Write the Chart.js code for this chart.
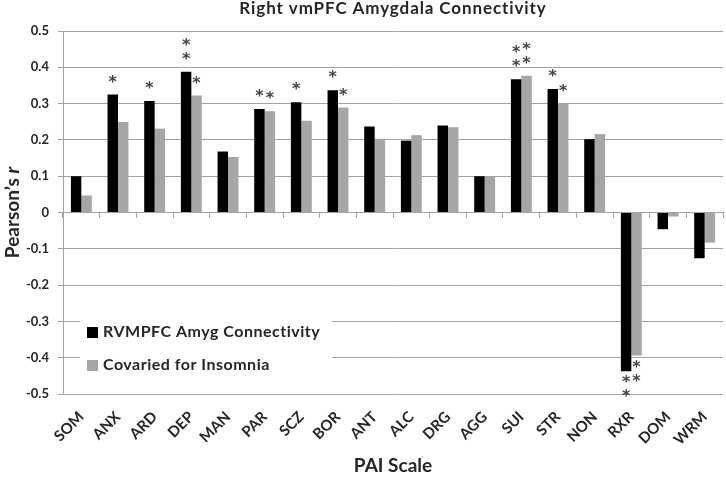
<!DOCTYPE html>
<html>
<head>
<meta charset="utf-8">
<script src="https://cdn.jsdelivr.net/npm/chart.js@4/dist/chart.umd.min.js"></script>
<style>
  html, body { margin: 0; padding: 0; background: #fff; }
  #wrap { width: 726px; height: 481px; }
</style>
</head>
<body>
<div id="wrap"><canvas id="chart" width="726" height="481"></canvas></div>
<script>
const categories = ['SOM', 'ANX', 'ARD', 'DEP', 'MAN', 'PAR', 'SCZ', 'BOR', 'ANT', 'ALC', 'DRG', 'AGG', 'SUI', 'STR', 'NON', 'RXR', 'DOM', 'WRM']
const connectivity = [0.100, 0.325, 0.307, 0.388, 0.168, 0.285, 0.304, 0.337, 0.237, 0.198, 0.240, 0.100, 0.367, 0.340, 0.202, -0.437, -0.046, -0.126]
const insomnia = [0.047, 0.249, 0.231, 0.322, 0.153, 0.279, 0.253, 0.289, 0.203, 0.213, 0.235, 0.100, 0.377, 0.300, 0.216, -0.394, -0.011, -0.083]
// number of significance asterisks per bar
const starsConnectivity = [0, 1, 1, 2, 0, 1, 1, 1, 0, 0, 0, 0, 2, 1, 0, 2, 0, 0]
const starsInsomnia = [0, 0, 0, 1, 0, 1, 0, 1, 0, 0, 0, 0, 2, 1, 0, 2, 0, 0]
const yMin = -0.5
const yMax = 0.5
const yStep = 0.1

const FONT = 'Lato, "Open Sans", sans-serif'
const TEXT = '#262626'
const GRID = '#a3a3a3'

// title, y title with italic r, inside legend, asterisks
const extras = {
    id: 'extras',
    afterDatasetsDraw(chart) {
        const { ctx, chartArea } = chart
        ctx.save()

        // asterisks
        const starSets = [starsConnectivity, starsInsomnia]
        ctx.fillStyle = '#444'
        ctx.font = 'bold 16px "DejaVu Sans"'
        ctx.textAlign = 'center'
        ctx.textBaseline = 'alphabetic'
        starSets.forEach((stars, d) => {
            const meta = chart.getDatasetMeta(d)
            stars.forEach((n, j) => {
                const bar = meta.data[j]
                const v = chart.data.datasets[d].data[j]
                for (let k = 0; k < n; k++) {
                    const center = v >= 0 ? bar.y - 17 - 14 * k : bar.y + 7 + 14 * k
                    ctx.fillText('*', bar.x, center + 9)
                }
            })
        })

        // legend box sitting on the plot
        ctx.fillStyle = '#fff'
        ctx.fillRect(80, 300, 252, 85)
        ctx.font = 'bold 16px ' + FONT
        ctx.letterSpacing = '0.5px'
        ctx.textAlign = 'left'
        ctx.textBaseline = 'middle'
        chart.data.datasets.forEach((ds, i) => {
            const y = 332 + i * 33
            ctx.fillStyle = ds.backgroundColor
            ctx.fillRect(87, y - 5, 11, 11)
            ctx.fillStyle = TEXT
            ctx.fillText(ds.label, 103, y)
        })

        // chart title
        ctx.font = 'bold 17px ' + FONT
        ctx.letterSpacing = '0.9px'
        ctx.textAlign = 'center'
        ctx.fillStyle = TEXT
        ctx.fillText('Right vmPFC Amygdala Connectivity', (chartArea.left + chartArea.right) / 2, 9)
        ctx.letterSpacing = '0px'

        // y axis title, "r" in italic
        const a = 'Pearson\u2019s '
        const b = 'r'
        ctx.font = 'bold 19px ' + FONT
        const wa = ctx.measureText(a).width
        ctx.font = 'italic bold 19px ' + FONT
        const wb = ctx.measureText(b).width
        ctx.translate(13, (chartArea.top + chartArea.bottom) / 2)
        ctx.rotate(-Math.PI / 2)
        ctx.textAlign = 'left'
        ctx.font = 'bold 19px ' + FONT
        ctx.fillText(a, -(wa + wb) / 2, 0)
        ctx.font = 'italic bold 19px ' + FONT
        ctx.fillText(b, -(wa + wb) / 2 + wa, 0)
        ctx.restore()
    }
}

new Chart(document.getElementById('chart'), {
    type: 'bar',
    data: {
        labels: categories,
        datasets: [{
            label: 'RVMPFC Amyg Connectivity',
            data: connectivity,
            backgroundColor: '#000000',
            borderWidth: 0
        }, {
            label: 'Covaried for Insomnia',
            data: insomnia,
            backgroundColor: '#a6a6a6',
            borderWidth: 0
        }]
    },
    options: {
        responsive: false,
        animation: false,
        layout: { padding: { top: 31, right: 3, left: 0, bottom: 0 } },
        categoryPercentage: 0.57,
        barPercentage: 1.0,
        plugins: {
            legend: { display: false },
            title: { display: false },
            tooltip: { enabled: false }
        },
        scales: {
            x: {
                position: 'bottom',
                grid: { display: false },
                border: { display: false },
                ticks: {
                    color: TEXT,
                    font: { family: FONT, size: 15, weight: 'bold' },
                    minRotation: 45,
                    maxRotation: 45,
                    padding: 6
                },
                title: {
                    display: true,
                    text: 'PAI Scale',
                    color: TEXT,
                    font: { family: FONT, size: 19, weight: 'bold' },
                    padding: { top: 0, bottom: 4 }
                },
                afterFit: scale => { scale.height = 87 }
            },
            // zero line with category tick marks
            x0: {
                type: 'category',
                labels: categories,
                position: { y: 0 },
                offset: true,
                ticks: { display: false },
                grid: { drawOnChartArea: false, drawTicks: true, tickLength: 5, offset: true, color: GRID },
                border: { display: true, color: GRID, width: 1 }
            },
            y: {
                min: yMin,
                max: yMax,
                grid: { color: GRID, tickLength: 5 },
                border: { color: GRID },
                ticks: {
                    stepSize: yStep,
                    color: TEXT,
                    padding: 9,
                    font: { family: FONT, size: 13, weight: 'bold' },
                    callback: v => {
                        const r = Math.round(v * 10) / 10
                        return r === 0 ? '0' : r.toFixed(1)
                    }
                },
                afterFit: scale => { scale.width = 63 }
            }
        }
    },
    plugins: [extras]
})
</script>
</body>
</html>
